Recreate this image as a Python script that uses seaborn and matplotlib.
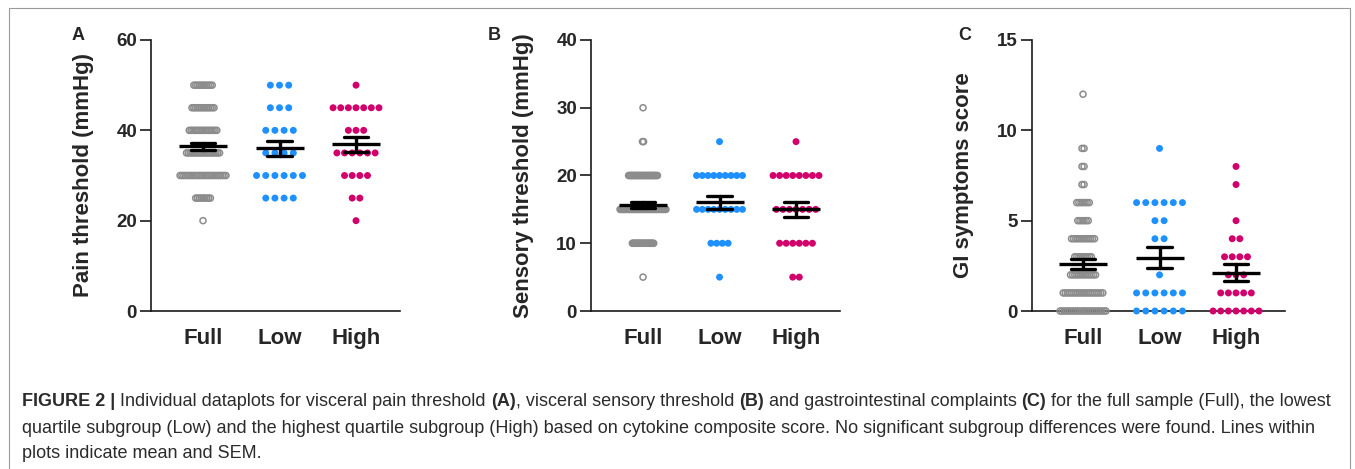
import numpy as np
import pandas as pd
import matplotlib
matplotlib.use("Agg")
import matplotlib.pyplot as plt
from matplotlib import font_manager
from matplotlib.patches import Rectangle
import seaborn as sns

groups = ["Full", "Low", "High"]
colors = {"Full": "#8c8c8c", "Low": "#1e90ff", "High": "#d1006b"}

# value levels and number of subjects on each level, counted from the dot rows
pain_levels = [50, 45, 40, 35, 30, 25, 20]
pain_full = [11, 13, 16, 19, 26, 9, 1]
pain_low = [3, 3, 4, 4, 6, 4, 0]
pain_high = [1, 7, 3, 6, 4, 2, 1]

sens_levels = [30, 25, 20, 15, 10, 5]
sens_full = [1, 2, 28, 44, 21, 1]
sens_low = [0, 1, 9, 9, 4, 1]
sens_high = [0, 1, 8, 7, 6, 2]

gi_levels = [12, 9, 8, 7, 6, 5, 4, 3, 2, 1, 0]
gi_full = [1, 2, 2, 2, 7, 6, 12, 9, 13, 20, 23]
gi_low = [0, 1, 0, 0, 6, 2, 2, 0, 1, 6, 6]
gi_high = [0, 0, 1, 1, 0, 1, 2, 4, 3, 5, 7]

panels = [
    ("A", "Pain threshold (mmHg)", pain_levels, [pain_full, pain_low, pain_high], [0, 20, 40, 60]),
    ("B", "Sensory threshold (mmHg)", sens_levels, [sens_full, sens_low, sens_high], [0, 10, 20, 30, 40]),
    ("C", "GI symptoms score", gi_levels, [gi_full, gi_low, gi_high], [0, 5, 10, 15]),
]

caption_lines = [
    [("FIGURE 2 |", "bold"), (" Individual dataplots for visceral pain threshold ", "normal"),
     ("(A)", "bold"), (", visceral sensory threshold ", "normal"), ("(B)", "bold"),
     (" and gastrointestinal complaints ", "normal"), ("(C)", "bold"),
     (" for the full sample (Full), the lowest", "normal")],
    [("quartile subgroup (Low) and the highest quartile subgroup (High) based on cytokine "
      "composite score. No significant subgroup differences were found. Lines within", "normal")],
    [("plots indicate mean and SEM.", "normal")],
]

W, H = 1355, 469


def dot_offsets(values, step=0.12, span=0.6):
    # prism-like scatter: rows centred on the group, squeezed to a max width
    vals = np.asarray(values)
    levels, counts = np.unique(vals, return_counts=True)
    if counts.max() > 1:
        step = min(step, span / (counts.max() - 1))
    off = np.zeros(len(vals))
    for lv in levels:
        idx = np.where(vals == lv)[0]
        off[idx] = (np.arange(len(idx)) - (len(idx) - 1) / 2) * step
    return off


def make_frame(levels, count_lists):
    parts = []
    for i, (g, counts) in enumerate(zip(groups, count_lists)):
        vals = np.repeat(levels, counts)
        parts.append(pd.DataFrame({"group": g, "pos": i, "value": vals,
                                   "xs": i + dot_offsets(vals)}))
    return pd.concat(parts, ignore_index=True)


sns.set_style("ticks")
plt.rcParams["font.family"] = ["Liberation Sans", "DejaVu Sans"]
plt.rcParams["font.weight"] = "bold"

fig = plt.figure(figsize=(W / 100, H / 100), dpi=100)

# axes boxes in pixels: left, right of x axis; top / bottom of y range
boxes = [(151, 400, -0.68), (591, 840, -0.68), (1032, 1285, -0.667)]
top_px, bot_px = 40, 311

for (letter, ylabel, levels, count_lists, yticks), (l, r, x0) in zip(panels, boxes):
    ax = fig.add_axes([l / W, 1 - bot_px / H, (r - l) / W, (bot_px - top_px) / H])
    df = make_frame(levels, count_lists)

    full = df[df.group == "Full"]
    sns.scatterplot(data=full, x="xs", y="value", marker="o", s=19, facecolor="none",
                    edgecolor=colors["Full"], linewidth=1.1, ax=ax, zorder=3, clip_on=False)
    sub = df[df.group != "Full"]
    sns.scatterplot(data=sub, x="xs", y="value", hue="group", palette=colors, s=25,
                    linewidth=0, legend=False, ax=ax, zorder=3, clip_on=False)

    sns.pointplot(data=df, x="pos", y="value", native_scale=True, errorbar="se",
                  capsize=0.32, color="black", marker="_", markersize=35,
                  markeredgewidth=2.4, linestyle="none",
                  err_kws={"linewidth": 2.4, "zorder": 4}, zorder=4, ax=ax)

    x1 = x0 + (r - l) / 76.5
    ax.set_xlim(x0, x1)
    ax.set_ylim(0, yticks[-1])
    ax.set_yticks(yticks)
    ax.set_xticks([0, 1, 2], groups)
    sns.despine(ax=ax)
    for sp in ["left", "bottom"]:
        ax.spines[sp].set_linewidth(1.2)
        ax.spines[sp].set_color("#1a1a1a")
    ax.tick_params(axis="y", length=8, width=1.2, pad=2, labelsize=13.5, color="#1a1a1a")
    ax.tick_params(axis="x", length=0, pad=12, labelsize=16)
    ax.set_xlabel("")
    ax.set_ylabel(ylabel, fontsize=16, fontweight="bold", va="center")
    ax.yaxis.set_label_coords(-68 / (r - l), 0.5)

fig.text(78 / W, 1 - 35 / H, "A", fontsize=13, fontweight="bold", ha="center", va="center")
fig.text(494 / W, 1 - 36 / H, "B", fontsize=13, fontweight="bold", ha="center", va="center")
fig.text(965 / W, 1 - 35 / H, "C", fontsize=13, fontweight="bold", ha="center", va="center")

# thin frame round the figure
fig.add_artist(Rectangle((9 / W, -0.02), (1350 - 9) / W, 1.02 - 8 / H, transform=fig.transFigure,
                         fill=False, edgecolor="#9a9a9a", linewidth=0.8))

# caption, built piece by piece so bold and regular parts can mix
names = {f.name for f in font_manager.fontManager.ttflist}
cap_font = "Liberation Sans Narrow" if "Liberation Sans Narrow" in names else "Liberation Sans"
renderer = fig.canvas.get_renderer()


def text_width(s, size, weight):
    t = fig.text(0, 0, s, fontsize=size, fontweight=weight, family=cap_font)
    w = t.get_window_extent(renderer).width
    t.remove()
    return w


def piece_widths(pieces, size):
    space = text_width("a a", size, "normal") - text_width("aa", size, "normal")
    out = []
    for s, wt in pieces:
        lead = space if s.startswith(" ") else 0
        trail = space if s.endswith(" ") else 0
        out.append((lead, text_width(s.strip(), size, wt), trail))
    return out


base = 10
line1 = sum(a + b + c for a, b, c in piece_widths(caption_lines[0], base))
cap_size = base * (1333 - 22) / line1

for pieces, y in zip(caption_lines, [401, 428, 453]):
    x = 22
    for (s, wt), (lead, w, trail) in zip(pieces, piece_widths(pieces, cap_size)):
        x += lead
        fig.text(x / W, 1 - y / H, s.strip(), fontsize=cap_size, fontweight=wt,
                 family=cap_font, color="#2b2b2b", va="center", ha="left")
        x += w + trail

fig.savefig("out.png", dpi=100)
